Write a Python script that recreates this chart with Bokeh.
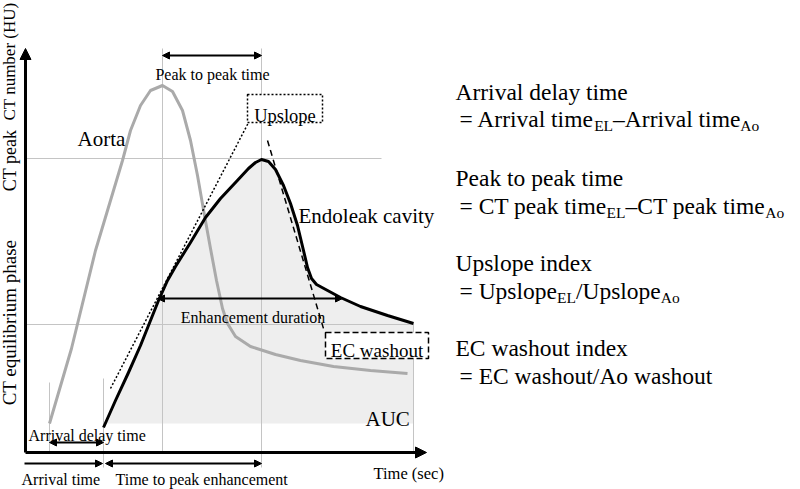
import math
from bokeh.plotting import figure
from bokeh.models import Range1d, Arrow, NormalHead, ColumnDataSource
from bokeh.core.properties import value
from bokeh.embed import file_html
from bokeh.resources import INLINE

FONT = "Liberation Serif"

# ---- schematic time-density curves (time units, HU units) ----
aorta_t = [24, 46, 70, 85, 97, 105, 115, 125, 137, 147, 157, 165, 172, 179, 185, 191,
           197, 202, 210, 225, 250, 275, 308, 345, 382]
aorta_hu = [29, 104, 202, 252, 292, 322, 347, 362, 367, 361, 342, 312, 277, 237, 204, 172,
            144, 129, 116, 106, 98, 92, 86, 82, 79]

el_t = [78, 90, 103, 115, 125, 133, 142, 150, 165, 180, 195, 210, 223, 230, 236, 243, 250,
        258, 265, 272, 278, 282, 286, 291, 315, 335, 362, 388]
el_hu = [25, 52, 80, 107, 132, 152, 172, 186, 210, 235, 254, 270, 284, 290, 293, 291, 283,
         267, 249, 227, 202, 185, 174, 168, 155, 146, 137, 129]
auc_base = 29

# reference guide lines
guide_x0 = [0, 0, 24, 78, 137, 236, 388]
guide_y0 = [294, 128, 0, -15, 0, -15, 0]
guide_x1 = [356, 388, 24, 78, 137, 236, 388]
guide_y1 = [294, 128, 70, 74, 404, 404, 129]

# tangent lines
upslope_t = [85, 223]
upslope_hu = [64, 330]
washout_t = [242, 298]
washout_hu = [312, 124]

# boxes: left, right, bottom, top
up_box = [222, 297, 330, 358]
ec_box = [300, 403, 94, 120]

# axes arrows
axis_x0 = [0, 0]
axis_y0 = [0, 0]
axis_x1 = [401, 0]
axis_y1 = [0, 404]

# double-headed measurement arrows
dbl_x0 = [137, 132, 24, 80]
dbl_y0 = [397, 154, 10, -11]
dbl_x1 = [236, 317, 78, 236]
dbl_y1 = [397, 154, 10, -11]

# single-headed arrow (arrival time)
sgl_x0 = [-1]
sgl_y0 = [-11]
sgl_x1 = [77]
sgl_y1 = [-11]

# definition texts on the right: (text, is_subscript) pieces per line
def_headers = ["Arrival delay time", "Peak to peak time", "Upslope index", "EC washout index"]
def_header_y = [361, 275, 190, 105]
def_lines = [
    [("= Arrival time", 0), ("EL", 1), ("\u2013Arrival time", 0), ("Ao", 1)],
    [("= CT peak time", 0), ("EL", 1), ("\u2013CT peak time", 0), ("Ao", 1)],
    [("= Upslope", 0), ("EL", 1), ("/Upslope", 0), ("Ao", 1)],
    [("= EC washout/Ao washout", 0)],
]
def_line_y = [334, 247, 162, 77]
DEF_X = 430
LINE_X = 434
MAIN_SIZE = 23.5
SUB_SIZE = 15.5
SUB_DROP = 7

W = 800
H = 489
X0, X1 = -25, 775
Y0, Y1 = -37, 452

p = figure(width=W, height=H, x_range=Range1d(X0, X1), y_range=Range1d(Y0, Y1),
           output_backend="svg", toolbar_location=None, min_border=0, title=None,
           x_axis_location=None, y_axis_location=None)
p.grid.visible = False
p.outline_line_color = None

# AUC fill
p.patch(el_t + [el_t[-1], el_t[0]], el_hu + [auc_base, auc_base],
        fill_color="#eeeeee", line_color=None)

# guide lines
p.segment(guide_x0, guide_y0, guide_x1, guide_y1, line_color="#c4c4c4", line_width=1)

# curves
p.line(aorta_t, aorta_hu, line_color="#aaaaaa", line_width=3, line_join="round")
p.line(el_t, el_hu, line_color="black", line_width=3, line_join="round")

# tangent lines
p.line(upslope_t, upslope_hu, line_color="black", line_width=1.5, line_dash="2 2")
p.line(washout_t, washout_hu, line_color="black", line_width=1.5, line_dash="6 4")

# boxes
p.quad(left=[up_box[0]], right=[up_box[1]], bottom=[up_box[2]], top=[up_box[3]],
       fill_color="white", line_color="black", line_width=1.5, line_dash="2 2")
p.quad(left=[ec_box[0]], right=[ec_box[1]], bottom=[ec_box[2]], top=[ec_box[3]],
       fill_color="white", line_color="black", line_width=1.5, line_dash="6 3")

# arrows
head = dict(fill_color="black", line_color="black")
ax_src = ColumnDataSource(dict(x0=axis_x0, y0=axis_y0, x1=axis_x1, y1=axis_y1))
p.add_layout(Arrow(source=ax_src, x_start="x0", y_start="y0", x_end="x1", y_end="y1",
                   line_width=3, end=NormalHead(size=11, **head)))
dbl_src = ColumnDataSource(dict(x0=dbl_x0, y0=dbl_y0, x1=dbl_x1, y1=dbl_y1))
p.add_layout(Arrow(source=dbl_src, x_start="x0", y_start="y0", x_end="x1", y_end="y1",
                   line_width=2, start=NormalHead(size=7, **head), end=NormalHead(size=7, **head)))
sgl_src = ColumnDataSource(dict(x0=sgl_x0, y0=sgl_y0, x1=sgl_x1, y1=sgl_y1))
p.add_layout(Arrow(source=sgl_src, x_start="x0", y_start="y0", x_end="x1", y_end="y1",
                   line_width=2, end=NormalHead(size=7, **head)))


def txt(xs, ys, texts, size, align="left", baseline="alphabetic", angle=0.0):
    p.text(x=xs, y=ys, text=texts, text_font=value(FONT), text_font_size=value(f"{size}px"),
           text_align=align, text_baseline=baseline, angle=angle, text_color="black")


# curve labels
txt([52, 273, 340], [314, 237, 34], ["Aorta", "Endoleak cavity", "AUC"], 21)
txt([259.5], [337], ["Upslope"], 18.5, align="center")
txt([351.5], [102], ["EC washout"], 19, align="center")
txt([187, 227.5], [378, 135], ["Peak to peak time", "Enhancement duration"], 16, align="center")
txt([3], [17], ["Arrival delay time"], 16)
txt([-4, 90], [-27, -27], ["Arrival time", "Time to peak enhancement"], 16)
txt([348], [-21], ["Time (sec)"], 16.5)

# rotated y labels
txt([-16], [391], ["CT number (HU)"], 17, align="center", baseline="middle", angle=math.pi / 2)
txt([-16], [292], ["CT peak"], 18, align="center", baseline="middle", angle=math.pi / 2)
txt([-16], [130], ["CT equilibrium phase"], 19, align="center", baseline="middle", angle=math.pi / 2)

# Times-compatible advance widths (1/1000 em) to place subscripts after text runs
ADV = {" ": 250, "=": 564, "A": 722, "r": 333, "i": 278, "v": 500, "a": 444, "l": 278,
       "t": 278, "m": 778, "e": 444, "E": 611, "L": 611, "o": 500, "\u2013": 500,
       "C": 667, "T": 611, "p": 500, "k": 500, "U": 722, "s": 389, "/": 278, "w": 722,
       "h": 500, "u": 500, "c": 444, "n": 500, "d": 500, "x": 500}
units_per_px = (X1 - X0) / W

txt([DEF_X] * len(def_headers), def_header_y, def_headers, MAIN_SIZE)
for pieces, yb in zip(def_lines, def_line_y):
    x = LINE_X
    main_x, main_y, main_t, sub_x, sub_y, sub_t = [], [], [], [], [], []
    for s, is_sub in pieces:
        size = SUB_SIZE if is_sub else MAIN_SIZE
        if is_sub:
            sub_x.append(x); sub_y.append(yb - SUB_DROP); sub_t.append(s)
        else:
            main_x.append(x); main_y.append(yb); main_t.append(s)
        x += sum(ADV.get(c, 500) for c in s) / 1000.0 * size * units_per_px
    txt(main_x, main_y, main_t, MAIN_SIZE)
    if sub_t:
        txt(sub_x, sub_y, sub_t, SUB_SIZE)

open("out.html", "w").write(file_html(p, INLINE))
